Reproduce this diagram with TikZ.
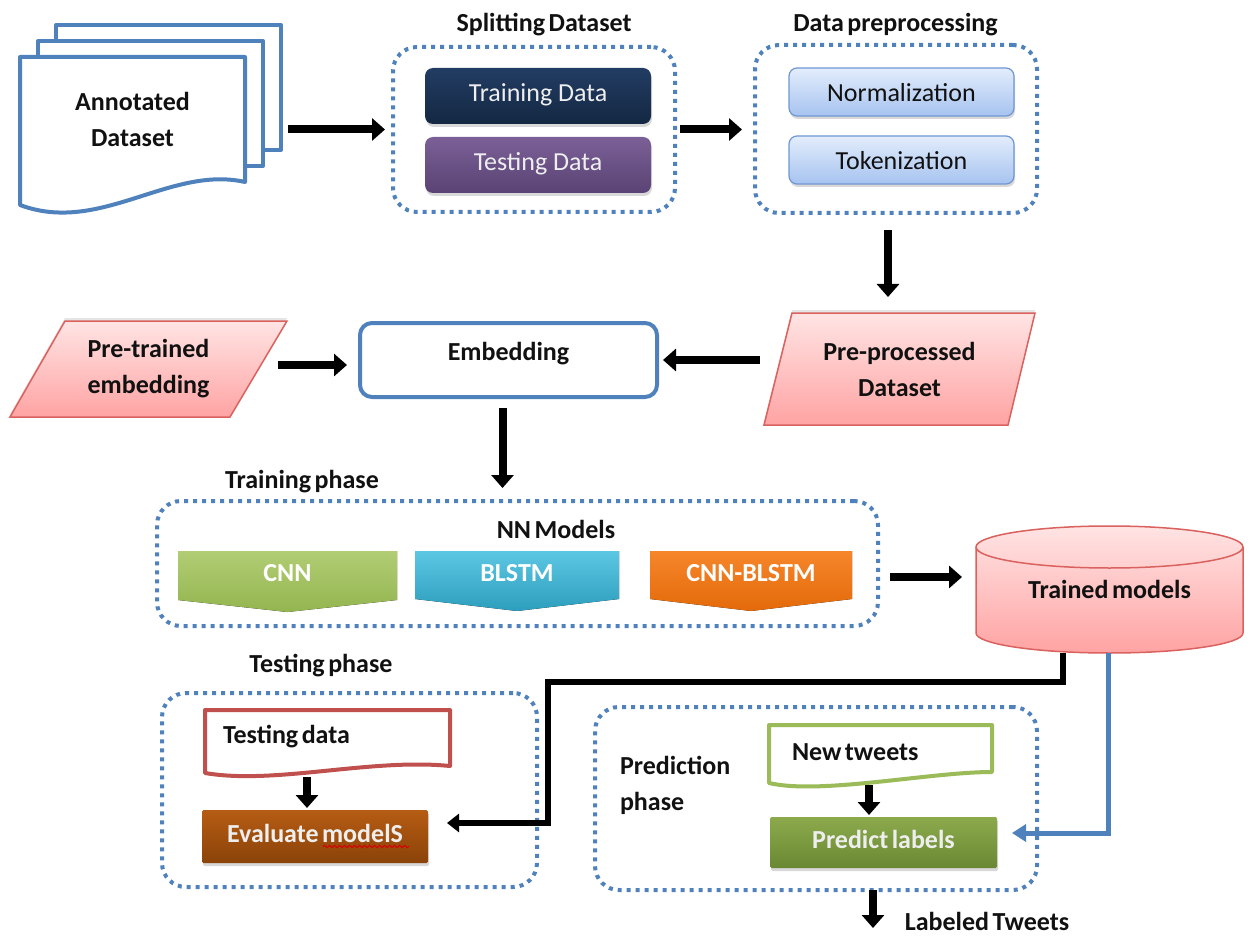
\documentclass[tikz,border=0pt]{standalone}
\usepackage{fontspec}
\setmainfont{Carlito}[BoldFeatures={WordSpace=0.6}]
\usetikzlibrary{arrows.meta,calc,shadows,backgrounds,decorations.pathmorphing}

\definecolor{grpblue}{HTML}{4F81BD}
\definecolor{navyA}{HTML}{223C63}
\definecolor{navyB}{HTML}{142842}
\definecolor{purA}{HTML}{7B6097}
\definecolor{purB}{HTML}{5A4374}
\definecolor{normA}{HTML}{E3EDFC}
\definecolor{normB}{HTML}{A6C3EF}
\definecolor{normedge}{HTML}{6F97D4}
\definecolor{pinkA}{HTML}{FFE4E4}
\definecolor{pinkB}{HTML}{FFA3A3}
\definecolor{pinkedge}{HTML}{D9625F}
\definecolor{cnnA}{HTML}{B2CD74}
\definecolor{cnnB}{HTML}{93B54F}
\definecolor{blsA}{HTML}{5CC7E3}
\definecolor{blsB}{HTML}{2D9EBD}
\definecolor{orgA}{HTML}{F6862A}
\definecolor{orgB}{HTML}{E36A0A}
\definecolor{evA}{HTML}{B65C14}
\definecolor{evB}{HTML}{8A4308}
\definecolor{pdA}{HTML}{8CAA4C}
\definecolor{pdB}{HTML}{6A8832}
\definecolor{docred}{HTML}{C0504D}
\definecolor{docgreen}{HTML}{9BBB59}
\definecolor{ink}{HTML}{111111}
\definecolor{lighttext}{HTML}{EEEEEE}

\begin{document}
\begin{tikzpicture}[x=1pt,y=-1pt,
  every node/.style={inner sep=0pt, outer sep=0pt},
  lbl/.style={font=\fontsize{26}{36}\selectfont\bfseries, text=ink},
  rg/.style={font=\fontsize{26}{36}\selectfont},
  one/.style={text height=18pt, text depth=6pt},
  grp/.style={draw=grpblue, line width=4pt, dash pattern=on 4pt off 5pt, rounded corners=24pt},
  box/.style={rounded corners=8pt, drop shadow={opacity=0.3, shadow xshift=1pt, shadow yshift=-3pt}},
  flatbox/.style={rounded corners=1.5pt, drop shadow={opacity=0.3, shadow xshift=1pt, shadow yshift=-3pt}},
  arr/.style={line width=8pt, -{Triangle[width=22pt,length=13pt]}},
  elb/.style={line width=6pt, -{Triangle[width=18pt,length=12pt]}},
  barr/.style={draw=grpblue, line width=5pt, -{Triangle[width=17pt,length=14pt]}},
  docline/.style={fill=white, line width=4pt, line join=round},
  pinkfill/.style={draw=pinkedge, line width=1.5pt, top color=pinkA, bottom color=pinkB},
]
\useasboundingbox (0,0) rectangle (1251,936);

% ---------- top row ----------
\node[lbl, align=center, minimum width=225pt, minimum height=125pt] (annot) at (132.5,119.5) {Annotated\\Dataset};

\node[grp, minimum width=282pt, minimum height=165pt] (split) at (534,129.5) {};
\node[lbl, anchor=base] (splitlbl) at (544,32) {Splitting Dataset};
\node[box, rg, one, text=lighttext, minimum width=226pt, minimum height=56pt,
      top color=navyA, bottom color=navyB] (trdata) at (538,96) {Training Data};
\node[box, rg, one, text=lighttext, minimum width=226pt, minimum height=56pt,
      top color=purA, bottom color=purB] (tsdata) at (538,165) {Testing Data};

\node[grp, minimum width=282pt, minimum height=168pt] (prep) at (896,129) {};
\node[lbl, anchor=base] (preplbl) at (895.5,32) {Data preprocessing};
\node[box, rg, text height=22pt, text depth=2pt, text=ink, draw=normedge, line width=1.2pt,
      minimum width=225pt, minimum height=48pt,
      top color=normA, bottom color=normB] (norm) at (901.5,92) {Normalization};
\node[box, rg, text height=22pt, text depth=2pt, text=ink, draw=normedge, line width=1.2pt,
      minimum width=225pt, minimum height=48pt,
      top color=normA, bottom color=normB] (tok) at (901.5,160) {Tokenization};

% ---------- embedding row ----------
\node[lbl, align=center, minimum width=277pt, minimum height=96pt] (pre) at (148.5,369) {Pre-trained\\embedding};
\node[lbl, draw=grpblue, line width=4pt, rounded corners=12pt, fill=white,
      minimum width=297pt, minimum height=74pt, text height=18pt, text depth=18pt] (emb) at (508.5,360) {Embedding};
\node[lbl, align=center, minimum width=271pt, minimum height=112pt] (ppd) at (899.5,369) {Pre-processed\\Dataset};

% ---------- training phase ----------
\node[grp, minimum width=721pt, minimum height=125pt] (train) at (517.5,563.5) {};
\node[lbl, anchor=base] (trainlbl) at (302,488) {Training phase};
\node[lbl, anchor=base] (nnlbl) at (556,538) {NN Models};
\node[lbl, one, text=white, minimum width=219pt, minimum height=49pt] (cnn) at (287.5,575.5) {CNN};
\node[lbl, one, text=white, minimum width=204pt, minimum height=48pt] (blstm) at (517,575) {BLSTM};
\node[lbl, one, text=white, minimum width=202pt, minimum height=48pt] (cnnb) at (751,575) {CNN-BLSTM};

\node[lbl, one, minimum width=267pt, minimum height=86pt] (trained) at (1109.5,592) {Trained models};

% ---------- testing phase ----------
\node[grp, minimum width=375pt, minimum height=194pt] (testg) at (349.5,790) {};
\node[lbl, anchor=base] (testlbl) at (321,672) {Testing phase};
\node[minimum width=245pt, minimum height=63pt] (tdoc) at (327.5,741.5) {};
\node[lbl, anchor=base west] (tdoctxt) at ($(tdoc.west)+(18,1.5)$) {Testing data};
\node[flatbox, lbl, one, text=lighttext, minimum width=226pt, minimum height=53pt,
      top color=evA, bottom color=evB] (eval) at (315,836.5) {Evaluate modelS};

% ---------- prediction phase ----------
\node[grp, minimum width=442pt, minimum height=183pt] (predg) at (816,798.5) {};
\node[lbl, align=left, anchor=west] (predlbl) at (620,785) {Prediction\\phase};
\node[minimum width=223pt, minimum height=58pt] (ntw) at (880.5,754) {};
\node[lbl, anchor=base west] (ntwtxt) at ($(ntw.west)+(23,6)$) {New tweets};
\node[flatbox, lbl, one, text=lighttext, minimum width=227pt, minimum height=51pt,
      top color=pdA, bottom color=pdB] (pred) at (883.5,842.5) {Predict labels};
\node[lbl, anchor=base] (labeled) at (987,930) {Labeled Tweets};

% ---------- shapes behind the texts ----------
\begin{scope}[on background layer]
  \fill[white] (0,0) rectangle (1251,936);
  % stacked documents
  \draw[docline, draw=grpblue] ($(annot.north west)+(36,-32)$) rectangle ($(annot.south east)+(36,-32)$);
  \draw[docline, draw=grpblue] ($(annot.north west)+(18,-16)$) rectangle ($(annot.south east)+(18,-16)$);
  \draw[docline, draw=grpblue] (annot.north west) -- (annot.north east) -- (annot.south east)
       .. controls +(-75,-17) and +(80,30) .. ($(annot.south west)+(0,23)$) -- cycle;
  % input / output parallelograms
  \path[pinkfill, drop shadow={opacity=0.2, shadow xshift=0pt, shadow yshift=3pt}]
       ($(pre.north west)+(55,0)$) -- (pre.north east) -- ($(pre.south east)+(-57,0)$) -- (pre.south west) -- cycle;
  \path[pinkfill, drop shadow={opacity=0.2, shadow xshift=0pt, shadow yshift=3pt}]
       ($(ppd.north west)+(28,0)$) -- (ppd.north east) -- ($(ppd.south east)+(-27,0)$) -- (ppd.south west) -- cycle;
  % model chevrons
  \fill[top color=cnnA, bottom color=cnnB] (cnn.north west) -- (cnn.north east) -- (cnn.south east)
       -- ($(cnn.south)+(0,12)$) -- (cnn.south west) -- cycle;
  \fill[top color=blsA, bottom color=blsB] (blstm.north west) -- (blstm.north east) -- (blstm.south east)
       -- ($(blstm.south)+(0,12)$) -- (blstm.south west) -- cycle;
  \fill[top color=orgA, bottom color=orgB] (cnnb.north west) -- (cnnb.north east) -- (cnnb.south east)
       -- ($(cnnb.south)+(0,12)$) -- (cnnb.south west) -- cycle;
  % database cylinder
  \path[pinkfill] ($(trained.north west)+(0,-2)$) -- ($(trained.south west)+(0,-2)$)
       arc[start angle=180, end angle=360, x radius=133.5pt, y radius=20pt] -- ($(trained.north east)+(0,-2)$)
       arc[start angle=0, end angle=180, x radius=133.5pt, y radius=21pt] -- cycle;
  \draw[pinkedge, line width=1.5pt] ($(trained.north west)+(0,-2)$)
       arc[start angle=180, end angle=360, x radius=133.5pt, y radius=21pt];
  % single documents
  \draw[docline, draw=docred] (tdoc.north west) -- (tdoc.north east) -- ($(tdoc.south east)+(0,-7)$)
       .. controls +(-80,-8) and +(70,12) .. (tdoc.south west) -- cycle;
  \draw[docline, draw=docgreen] (ntw.north west) -- (ntw.north east) -- ($(ntw.south east)+(0,-11)$)
       .. controls +(-62,0) and +(51,12) .. (ntw.south west) -- cycle;
\end{scope}

% spell-check mark under the last word
\draw[red!85!black, line width=1pt, decorate, decoration={snake, segment length=5pt, amplitude=1.2pt}]
     ($(eval.center)+(8,10)$) -- ($(eval.center)+(94,10)$);

% ---------- connectors ----------
\draw[arr, shorten <=43pt, shorten >=8pt] (annot.east |- split.west) -- (split.west);
\draw[arr, shorten <=5pt, shorten >=13pt] (split.east) -- (split.east -| prep.west);
\coordinate (prepout) at ($(prep.south)+(-8,0)$);
\draw[arr, shorten <=17pt, shorten >=16pt] (prepout) -- (prepout |- ppd.north);
\draw[arr, shorten <=4pt, shorten >=6pt] (ppd.west |- emb.east) -- (emb.east);
\coordinate (prein) at ($(emb.west)+(0,5)$);
\draw[arr, shorten <=-9pt, shorten >=13pt] (prein -| pre.east) -- (prein);
\coordinate (embout) at ($(emb.south)+(-6,0)$);
\draw[arr, shorten <=11pt, shorten >=13pt] (embout) -- (embout |- train.north);
\coordinate (trin) at ($(trained.west)+(0,-15)$);
\draw[arr, shorten <=12pt, shorten >=14pt] (trin -| train.east) -- (trin);

\coordinate (blk1) at ($(trained.south)+(-46.5,18)$);
\coordinate (blk2) at (548,682);
\coordinate (blk3) at (548,823);
\draw[elb, shorten >=19pt] (blk1) |- (blk2) -- (blk3) -- (blk3 -| eval.east);

\coordinate (blu1) at ($(trained.south)+(-1.5,18)$);
\coordinate (blu2) at (1108,833);
\draw[barr, shorten >=15pt] (blu1) -- (blu2) -- (blu2 -| pred.east);

\draw[arr] ($(tdoc.south)+(-20.5,4)$) -- ($(eval.north)+(-8,-2)$);
\draw[arr] ($(ntw.south)+(-11.5,2)$) -- ($(pred.north)+(-14.5,-2)$);
\coordinate (outend) at (873,928);
\draw[arr, shorten <=22pt] (pred.south -| outend) -- (outend);
\end{tikzpicture}
\end{document}
